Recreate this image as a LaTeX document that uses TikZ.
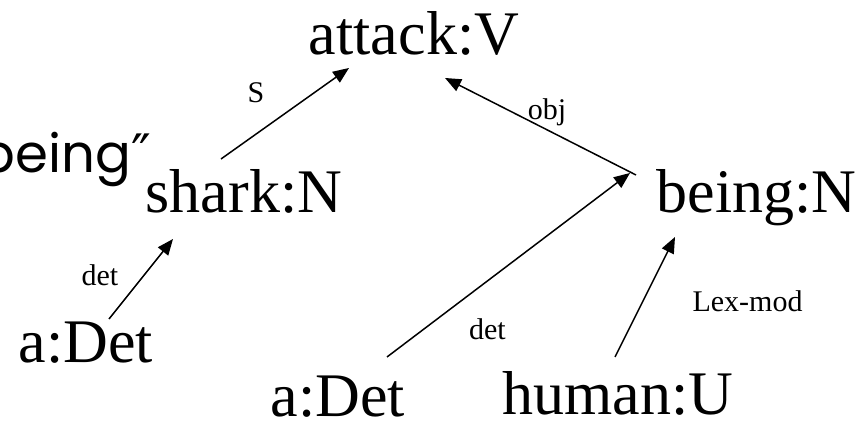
\documentclass[tikz,border=0pt]{standalone}
\usepackage{fontspec}
\setmainfont{Liberation Serif}
\newfontfamily\geofont{Poppins}
\newfontfamily\dvfont{DejaVu Sans}
\usetikzlibrary{arrows.meta}
\tikzset{
  word/.style={inner sep=0pt, outer sep=0pt, anchor=base, font=\fontsize{62}{62}\selectfont},
  rel/.style={inner sep=0pt, outer sep=0pt, anchor=base, font=\fontsize{30}{30}\selectfont},
  dep/.style={line width=1.5pt, -{Triangle[length=16pt,width=13pt]}},
}
\begin{document}
\begin{tikzpicture}[x=1pt,y=1pt]
\useasboundingbox (0,0) rectangle (863,425);
\fill[white] (0,0) rectangle (863,425);
\node[word] (attack) at (414,370) {attack:V};
\node[word] (shark) at (244,212) {shark:N};
\node[word] (being) at (756.5,212) {being:N};
\node[word] (adet1) at (86,62) {a:Det};
\node[word] (adet2) at (338,8) {a:Det};
\node[word] (human) at (618,10) {human:U};
\node[inner sep=0pt, anchor=base east, font=\fontsize{53}{53}\selectfont] (frag) at (151,252) {\geofont being\dvfont ″};
\node[rel] (lS) at (256,322) {S};
\node[rel] (lobj) at (547,305) {obj};
\node[rel] (ldet1) at (100,139) {det};
\node[rel] (ldet2) at (487.5,85) {det};
\node[rel] (llex) at (747.5,113) {Lex-mod};
\draw[dep] ([shift={(-23,54)}]shark.base) -- ([shift={(-65,-13)}]attack.base);
\draw[dep] ([shift={(-120.5,38)}]being.base) -- ([shift={(31,-23)}]attack.base);
\draw[dep] ([shift={(23,44)}]adet1.base) -- ([shift={(-71,-26)}]shark.base);
\draw[dep] ([shift={(49,60)}]adet2.base) -- ([shift={(-126.5,40)}]being.base);
\draw[dep] ([shift={(-3,58)}]human.base) -- ([shift={(-81.5,-24)}]being.base);
\end{tikzpicture}
\end{document}
